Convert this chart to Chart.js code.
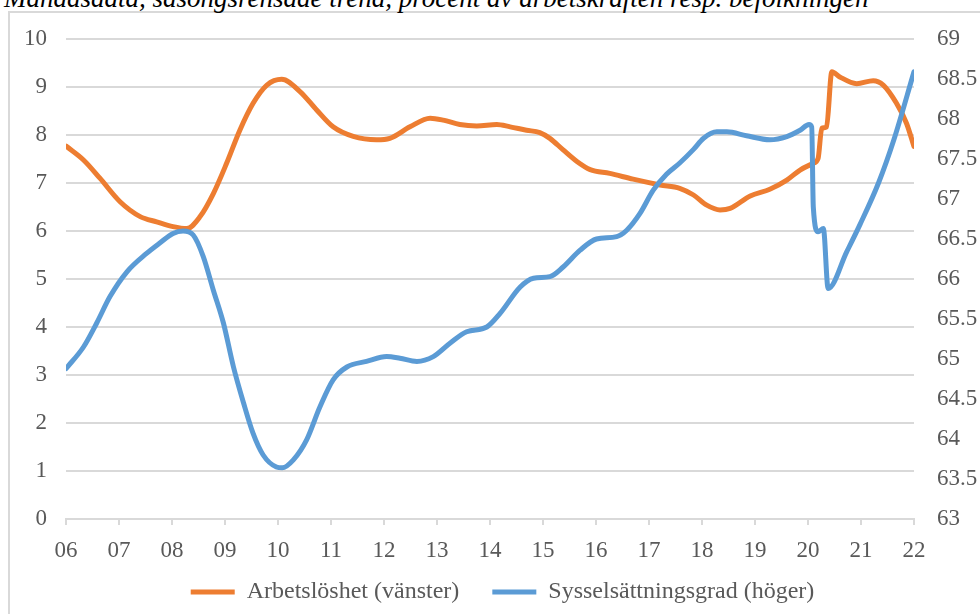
<!DOCTYPE html>
<html>
<head>
<meta charset="utf-8">
<script src="https://cdn.jsdelivr.net/npm/chart.js@4.4.0/dist/chart.umd.min.js"></script>
<style>
  html, body { margin: 0; padding: 0; background: #fff; overflow: hidden; }
  #wrap { position: relative; width: 980px; height: 614px; overflow: hidden; }
  #frame { position: absolute; left: 8px; top: 11px; width: 1100px; height: 800px; border: 2px solid #d9d9d9; box-sizing: border-box; }
  #title { position: absolute; left: 4px; top: -17px; line-height: 30px; font-family: 'Liberation Serif', serif; font-style: italic; font-size: 27px; color: #000; white-space: nowrap; }
  #c { position: absolute; left: 0; top: 0; }
</style>
</head>
<body>
<div id="wrap">
  <div id="frame"></div>
  <div id="title">Månadsdata, säsongsrensade trend, procent av arbetskraften resp. befolkningen</div>
  <canvas id="c" width="1005" height="614"></canvas>
</div>
<script>
const xTickLabels = ['06','07','08','09','10','11','12','13','14','15','16','17','18','19','20','21','22'];
const seriesNames = ['Arbetslöshet (vänster)', 'Sysselsättningsgrad (höger)'];

const unempYears = [2006.0,2006.33,2006.64,2007.02,2007.40,2007.71,2008.02,2008.28,2008.53,2008.78,2009.03,2009.28,2009.53,2009.79,2010.07,2010.42,2010.73,2011.04,2011.42,2011.86,2012.11,2012.49,2012.87,2013.12,2013.43,2013.75,2014.13,2014.38,2014.69,2014.94,2015.13,2015.38,2015.64,2015.89,2016.26,2016.70,2017.21,2017.58,2017.84,2018.09,2018.34,2018.53,2018.91,2019.28,2019.60,2019.85,2020.10,2020.19,2020.26,2020.35,2020.45,2020.60,2020.92,2021.23,2021.42,2021.67,2021.86,2022.0];
const unempValues = [7.77,7.48,7.10,6.61,6.30,6.19,6.09,6.05,6.30,6.78,7.41,8.10,8.66,9.04,9.16,8.90,8.52,8.17,7.97,7.90,7.93,8.17,8.35,8.31,8.22,8.19,8.22,8.17,8.10,8.05,7.93,7.69,7.45,7.28,7.20,7.08,6.96,6.89,6.75,6.54,6.44,6.47,6.73,6.87,7.06,7.27,7.41,7.51,8.14,8.17,9.32,9.21,9.07,9.13,9.04,8.66,8.24,7.76];

const empYears = [2006.0,2006.33,2006.58,2006.83,2007.15,2007.52,2007.77,2008.02,2008.21,2008.40,2008.59,2008.78,2008.97,2009.16,2009.35,2009.53,2009.72,2009.97,2010.08,2010.29,2010.54,2010.79,2011.04,2011.30,2011.67,2012.05,2012.30,2012.62,2012.93,2013.25,2013.56,2013.94,2014.19,2014.57,2014.82,2015.13,2015.38,2015.70,2016.01,2016.39,2016.58,2016.83,2017.08,2017.33,2017.58,2017.84,2018.03,2018.28,2018.47,2018.84,2019.28,2019.60,2019.85,2020.02,2020.07,2020.10,2020.19,2020.29,2020.38,2020.73,2020.98,2021.33,2021.62,2022.0];
const empValues = [64.88,65.15,65.45,65.78,66.09,66.32,66.45,66.57,66.60,66.55,66.28,65.86,65.45,64.90,64.45,64.07,63.80,63.65,63.64,63.74,63.99,64.40,64.74,64.90,64.97,65.03,65.01,64.97,65.03,65.20,65.34,65.40,65.57,65.90,66.01,66.03,66.15,66.36,66.50,66.53,66.61,66.82,67.11,67.31,67.45,67.62,67.76,67.84,67.84,67.79,67.74,67.78,67.86,67.93,67.90,66.90,66.59,66.63,65.88,66.34,66.68,67.20,67.74,68.59];

const toPoints = (xs, ys) => xs.map((x, i) => ({ x: x, y: ys[i] }));

const FAMILY = "'Liberation Serif', 'Times New Roman', serif";
const FONT = { family: FAMILY, size: 23 };
const LFONT = { family: FAMILY, size: 24 };
const TXT = '#595959';
const GRID = '#d9d9d9';

// keeps the legend flush with the bottom edge of the canvas
const legendToBottom = {
  id: 'legendToBottom',
  afterLayout(chart) {
    const lg = chart.legend;
    if (!lg) return;
    const h = lg.height;
    lg.bottom = chart.height;
    lg.top = chart.height - h;
  }
};

function draw() {
  Chart.defaults.font.family = FAMILY;
  new Chart(document.getElementById('c'), {
    type: 'line',
    plugins: [legendToBottom],
    data: {
      datasets: [
        {
          label: seriesNames[0],
          data: toPoints(unempYears, unempValues),
          borderColor: '#ED7D31',
          backgroundColor: '#ED7D31',
          borderWidth: 5,
          borderCapStyle: 'round',
          borderJoinStyle: 'round',
          pointRadius: 0,
          cubicInterpolationMode: 'monotone',
          yAxisID: 'y',
          order: 2
        },
        {
          label: seriesNames[1],
          data: toPoints(empYears, empValues),
          borderColor: '#5B9BD5',
          backgroundColor: '#5B9BD5',
          borderWidth: 5,
          borderCapStyle: 'round',
          borderJoinStyle: 'round',
          pointRadius: 0,
          cubicInterpolationMode: 'monotone',
          yAxisID: 'y1',
          order: 1
        }
      ]
    },
    options: {
      responsive: false,
      animation: false,
      layout: { padding: { top: 39, bottom: -18, left: 0, right: 0 } },
      plugins: {
        tooltip: { enabled: false },
        legend: {
          position: 'bottom',
          labels: {
            font: LFONT,
            color: TXT,
            usePointStyle: true,
            pointStyle: 'line',
            pointStyleWidth: 44,
            boxHeight: 24,
            padding: 33,
            sort: (a, b) => a.datasetIndex - b.datasetIndex
          }
        }
      },
      scales: {
        x: {
          type: 'linear',
          min: 2006,
          max: 2022,
          afterFit: (s) => { s.height = 46; },
          ticks: {
            stepSize: 1,
            autoSkip: false,
            maxRotation: 0,
            font: FONT,
            color: TXT,
            padding: 12,
            callback: (v) => xTickLabels[Math.round(v - 2006)]
          },
          grid: { drawOnChartArea: false, drawTicks: true, tickLength: 6, color: GRID, lineWidth: 2 },
          border: { display: true, color: GRID, width: 2 }
        },
        y: {
          position: 'left',
          min: 0,
          max: 10,
          afterFit: (s) => { s.width = 66; },
          ticks: { stepSize: 1, font: FONT, color: TXT, padding: 19 },
          grid: { color: GRID, lineWidth: 2, drawTicks: false },
          border: { display: false }
        },
        y1: {
          position: 'right',
          min: 63,
          max: 69,
          afterFit: (s) => { s.width = 91; },
          ticks: { stepSize: 0.5, font: FONT, color: TXT, padding: 23, callback: (v) => String(v) },
          grid: { drawOnChartArea: false, drawTicks: false },
          border: { display: false }
        }
      }
    }
  });
}

Promise.all([
  document.fonts.load("23px 'Liberation Serif'"),
  document.fonts.load("italic 27px 'Liberation Serif'")
]).then(draw, draw);
</script>
</body>
</html>
